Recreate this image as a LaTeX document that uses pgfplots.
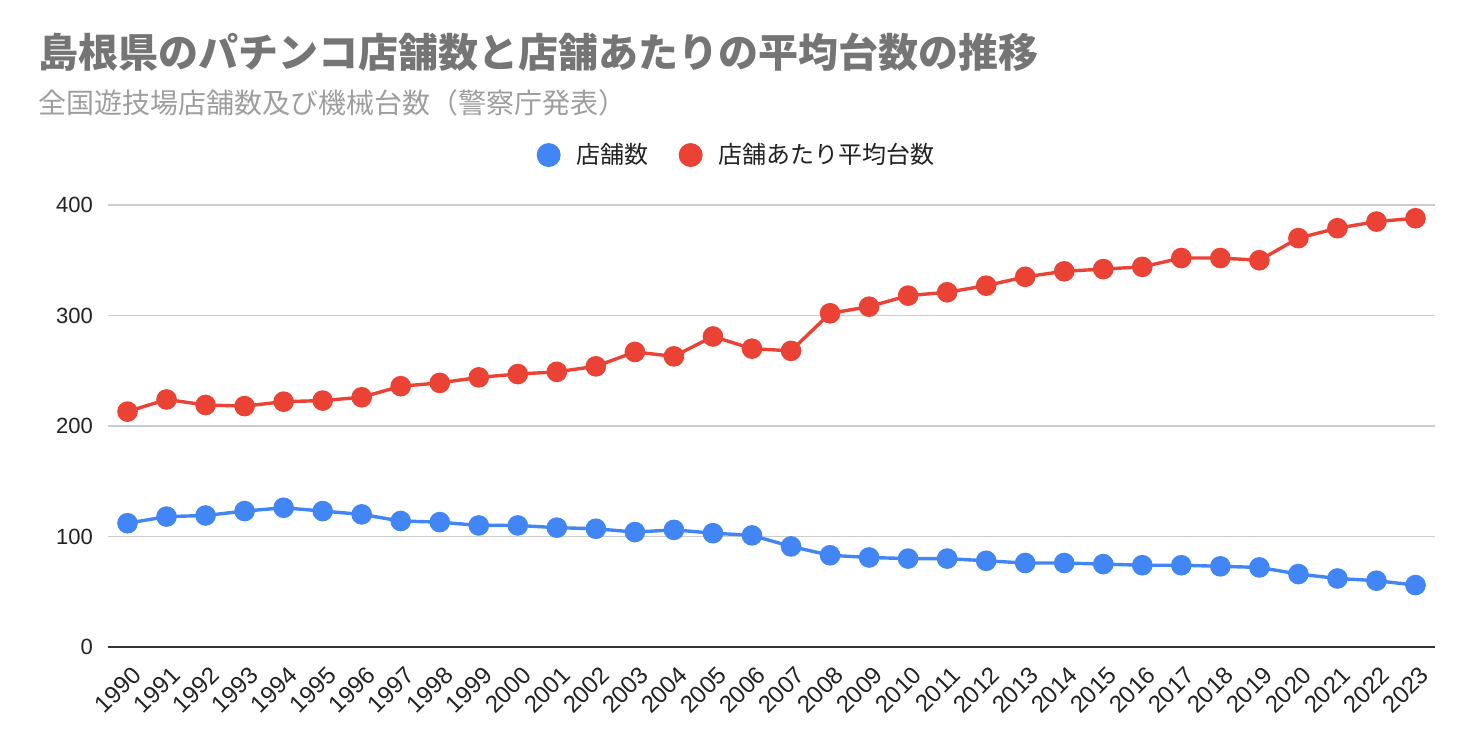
\documentclass[border=0pt]{standalone}
\usepackage{fontspec}
\setmainfont{Liberation Sans}
\newfontfamily\cjk{Noto Sans CJK JP}
\usepackage{pgfplots}
\usepackage{pgfplotstable}
\pgfplotsset{compat=1.18}
\definecolor{blue4}{HTML}{4285F4}
\definecolor{red4}{HTML}{EA4335}
\definecolor{titlegray}{HTML}{757575}
\definecolor{subgray}{HTML}{9E9E9E}
\definecolor{txt}{HTML}{222222}

% year, shops, average machines per shop
\pgfplotstableread{
year shops avg
1990 112 213
1991 118 224
1992 119 219
1993 123 218
1994 126 222
1995 123 223
1996 120 226
1997 114 236
1998 113 239
1999 110 244
2000 110 247
2001 108 249
2002 107 254
2003 104 267
2004 106 263
2005 103 281
2006 101 270
2007 91 268
2008 83 302
2009 81 308
2010 80 318
2011 80 321
2012 78 327
2013 76 335
2014 76 340
2015 75 342
2016 74 344
2017 74 352
2018 73 352
2019 72 350
2020 66 370
2021 62 379
2022 60 385
2023 56 388
}\shimane

\begin{document}
\begin{tikzpicture}
\useasboundingbox (0,0) rectangle (736pt,371pt);
\node[anchor=base west, inner sep=0pt, text=titlegray, font=\cjk\bfseries\fontsize{20pt}{22pt}\selectfont]
  at (19pt,337pt) {島根県のパチンコ店舗数と店舗あたりの平均台数の推移};
\node[anchor=base west, inner sep=0pt, text=subgray, font=\cjk\fontsize{14pt}{16pt}\selectfont]
  at (19pt,314pt) {全国遊技場店舗数及び機械台数（警察庁発表）};
\begin{axis}[
    at={(54pt,47.5pt)}, anchor=south west,
    scale only axis,
    width=663.5pt, height=221pt,
    xmin=1989.5, xmax=2023.5,
    ymin=0, ymax=400,
    xtick={1990,...,2023},
    ytick={100,200,300,400},
    extra y ticks={0},
    extra y tick style={grid style={color=black!80, line width=1pt}},
    ymajorgrids=true,
    grid style={color=black!20, line width=0.6pt},
    axis line style={draw=none},
    major tick length=0pt,
    clip=false,
    /pgf/number format/assume math mode=true,
    xticklabel={\pgfmathprintnumber[1000 sep={}]{\tick}},
    xticklabel style={rotate=45, anchor=east, font=\fontsize{12pt}{13pt}\selectfont, text=txt, xshift=-1.8pt, yshift=-11.8pt},
    yticklabel style={font=\fontsize{11pt}{12pt}\selectfont, text=txt, xshift=-4pt},
    every axis plot/.append style={line width=1.7pt, mark=*, mark size=4.3pt},
    legend columns=2,
    legend style={at={(0.4745,1.113)}, anchor=center, draw=none, fill=none,
      font=\cjk\fontsize{12pt}{14pt}\selectfont, text=txt,
      /tikz/every odd column/.append style={column sep=6pt},
      /tikz/every even column/.append style={column sep=13pt}},
    legend image code/.code={\fill[#1, draw=none] (0pt,0pt) circle (6pt);},
]
\addplot[color=blue4, forget plot] table[x=year, y=shops] {\shimane};
\addplot[color=red4, forget plot] table[x=year, y=avg] {\shimane};
\addlegendimage{fill=blue4}
\addlegendentry{店舗数}
\addlegendimage{fill=red4}
\addlegendentry{店舗あたり平均台数}
\end{axis}
\end{tikzpicture}
\end{document}
